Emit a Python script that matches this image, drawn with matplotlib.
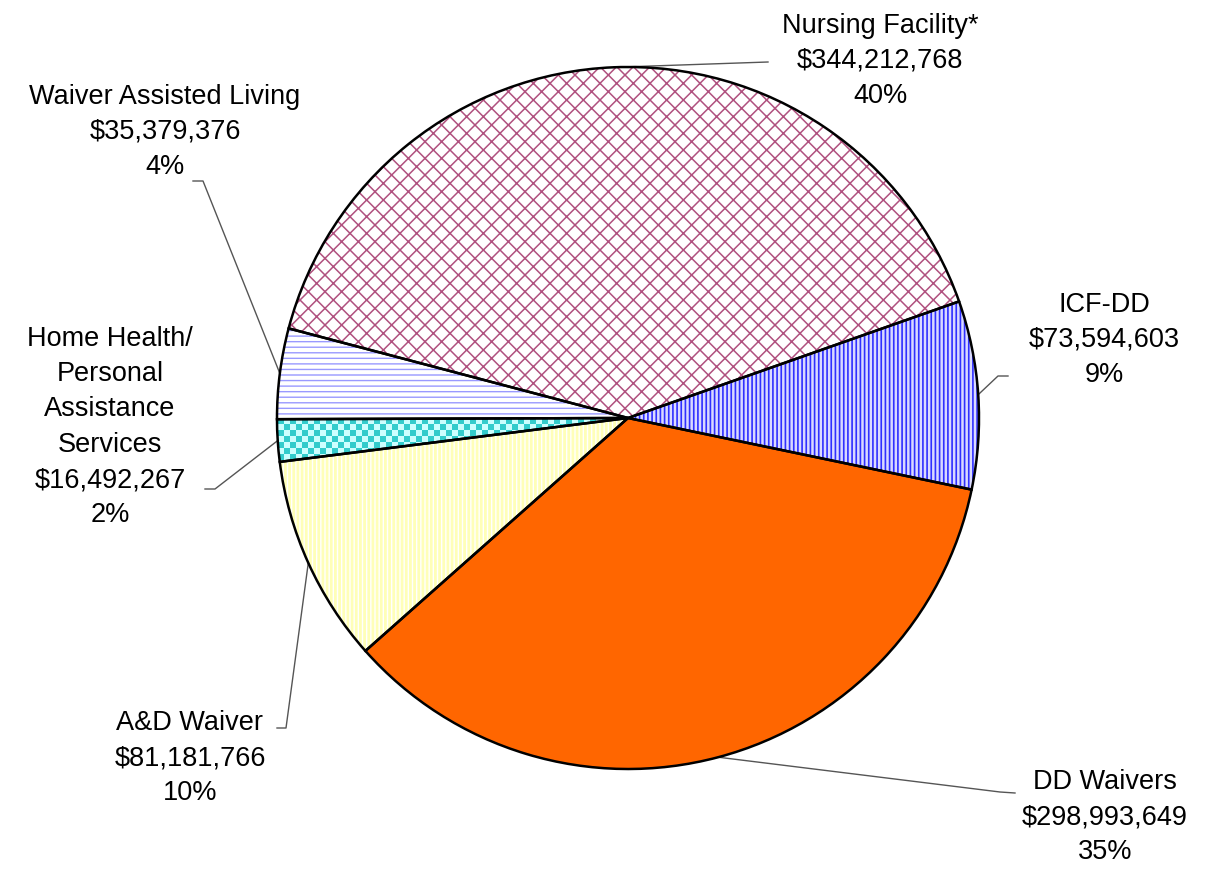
import numpy as np
import matplotlib as mpl
mpl.use("Agg")
import matplotlib.pyplot as plt

# slices, clockwise starting at ICF-DD
labels = ["ICF-DD", "DD Waivers", "A&D Waiver",
          "Home Health/\nPersonal\nAssistance\nServices",
          "Waiver Assisted Living", "Nursing Facility*"]
amounts = [73594603, 298993649, 81181766, 16492267, 35379376, 344212768]
pcts = ["9%", "35%", "10%", "2%", "4%", "40%"]

W, H = 1207, 871
plt.rcParams['font.family'] = ['Liberation Sans', 'DejaVu Sans']

fig = plt.figure(figsize=(W / 100, H / 100), dpi=100)
ax = fig.add_axes([0, 0, 1, 1])

cx, cy, r = 628, H - 418, 351

faces = ['#DADAFF', '#FF6600', 'white', '#CCFFFF', 'white', 'white']
hcols = ['#3030FF', '#FF6600', '#FFFFB8', '#CCFFFF', '#9999FF', '#B0517F']
hatches = ['||||', None, '||||', None, '---', 'xx']
hlw = [1.2, 1.0, 2.0, 1.0, 1.0, 1.1]

wedges, _ = ax.pie(amounts, center=(cx, cy), radius=r, startangle=19.4,
                   counterclock=False, frame=True,
                   wedgeprops=dict(linewidth=0))
for w, fc, hc, h, lw in zip(wedges, faces, hcols, hatches, hlw):
    w.set_facecolor(fc)
    w.set_edgecolor(hc)
    if h:
        w.set_hatch(h)
        if hasattr(w, 'set_hatch_linewidth'):
            w.set_hatch_linewidth(lw)

# checkerboard for the home health slice
hw = wedges[3]
n = 80
yy, xx = np.mgrid[0:n, 0:n]
board = ((xx + yy) % 2).astype(float)
cmap = mpl.colors.ListedColormap(['#33CCCC', '#CCFFFF'])
x0, y0 = cx - r - 5, cy - 60
im = ax.imshow(board, cmap=cmap, extent=(x0, x0 + n * 6, y0, y0 + n * 6),
               origin='lower', interpolation='nearest', zorder=2)
im.set_clip_path(hw)

# outlines on top
ax.pie(amounts, center=(cx, cy), radius=r, startangle=19.4,
       counterclock=False, frame=True,
       wedgeprops=dict(fill=False, edgecolor='black', linewidth=1.8,
                       zorder=5))
ax.set_xlim(0, W)
ax.set_ylim(0, H)
ax.set_aspect('auto')
ax.axis('off')

# label text: centre position (px, y down), line start (px), elbow end (px)
text_pos = [(1104, 340), (1105, 817), (190, 758), (110, 427), (165, 132), (880, 61)]
line_start = [(1008, 376), (1015, 793), (277, 728), (205, 489), (193, 181), (768, 62)]
elbow = [(998, 376), (1000, 792), (286, 728), (215, 489), (203, 181), (768, 62)]

for i, w in enumerate(wedges):
    txt = "%s\n$%s\n%s" % (labels[i], format(amounts[i], ','), pcts[i])
    tx, ty = text_pos[i]
    ax.text(tx, H - ty, txt, ha='center', va='center', fontsize=19.5,
            linespacing=1.47, color='black')
    mid = np.deg2rad((w.theta1 + w.theta2) / 2)
    ex, ey = cx + r * np.cos(mid), cy + r * np.sin(mid)
    sx, sy = line_start[i]
    bx, by = elbow[i]
    ax.plot([sx, bx, ex], [H - sy, H - by, ey], color='#555555', lw=1.0,
            zorder=4)

fig.savefig("out.png", dpi=100, facecolor='white')
